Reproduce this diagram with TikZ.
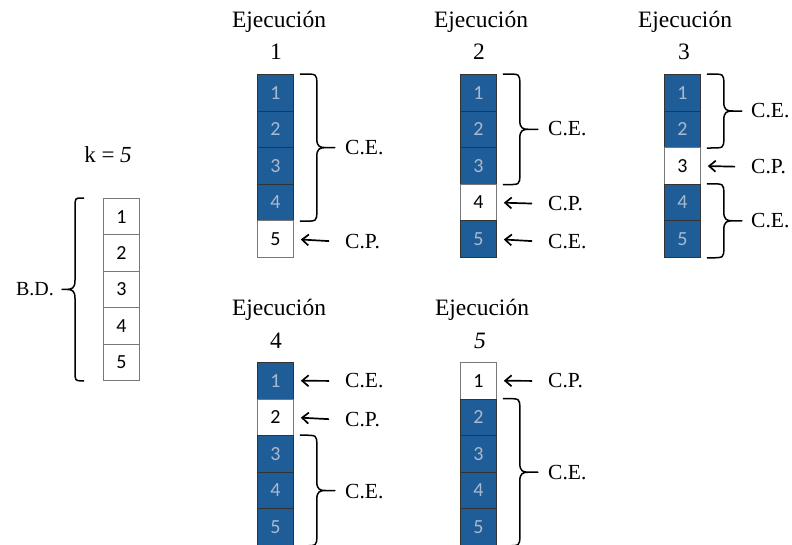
\documentclass[tikz,border=0pt]{standalone}
\usepackage{fontspec}
\setmainfont{Liberation Serif}
\newfontfamily\cellfont{Carlito}
\usetikzlibrary{arrows.meta,calc}

\definecolor{cellblue}{RGB}{31,93,153}
\definecolor{celltext}{RGB}{170,186,206}
\definecolor{cellgray}{RGB}{120,120,120}

\tikzset{
  cellbox/.style={draw=cellgray, line width=0.8pt, minimum width=36pt, minimum height=36.6pt,
    inner sep=0pt, anchor=north west, font=\cellfont\fontsize{20}{20}\selectfont},
  usedcell/.style={cellbox, fill=cellblue, text=celltext, draw=black!80},
  freecell/.style={cellbox, fill=white, text=black},
  title/.style={font=\fontsize{23.5}{23.5}\selectfont, inner sep=0pt},
  tag/.style={font=\fontsize{21.5}{21.5}\selectfont, inner sep=0pt, anchor=west},
  pointer/.style={line width=1.7pt, -{Straight Barb[length=6.5pt,width=11pt,line width=1.7pt]},
    shorten <=16pt, shorten >=7pt},
  % curly brace drawn from a top point to a bottom point:
  % #1 = side (1 right, -1 left), #2 = shaft offset, #3 = tip offset
  curly/.style n args={3}{line width=1.5pt, line join=round, to path={
    let \p1=(\tikztostart), \p2=(\tikztotarget), \n1={(\y1+\y2)/2} in
    (\p1) -- ($(\p1)+(#1*#2*0.2pt,0)$)
      .. controls ($(\p1)+(#1*#2*1pt,0)$) .. ($(\p1)+(#1*#2*1pt,-10pt)$)
      -- (\x1+#1*#2*1pt,\n1+9pt)
      .. controls (\x1+#1*#2*1pt,\n1+1pt) and (\x1+#1*#2*1pt+#1*3pt,\n1) .. (\x1+#1*#2*1pt+#1*9pt,\n1)
      -- (\x1+#1*#3*1pt,\n1)
      -- (\x1+#1*#2*1pt+#1*9pt,\n1)
      .. controls (\x1+#1*#2*1pt+#1*3pt,\n1) and (\x1+#1*#2*1pt,\n1-1pt) .. (\x1+#1*#2*1pt,\n1-9pt)
      -- ($(\p2)+(#1*#2*1pt,10pt)$)
      .. controls ($(\p2)+(#1*#2*1pt,0)$) .. ($(\p2)+(#1*#2*0.2pt,0)$)
      -- (\p2)
  }},
  curlyR/.style={curly={1}{17}{35}},
  curlyL/.style={curly={-1}{9}{22}}
}

\begin{document}
\begin{tikzpicture}[x=1pt,y=-1pt]
\useasboundingbox (0,0) rectangle (792,544);

% ---- database column ----
\foreach \i in {1,...,5}
  \node[freecell, minimum height=36.4pt] (bd\i) at (103,{198+(\i-1)*36.4}) {\i};
\node[title, font=\fontsize{23}{23}\selectfont] (kval) at (108,155) {k = \textit{5}};
\draw[curlyL] ([xshift=-19pt]bd1.north west) to ([xshift=-19pt]bd5.south west);
\node[tag, anchor=east, font=\fontsize{20}{20}\selectfont] (bdlbl) at (54,289) {B.D.};

% ---- run 1 ----
\node[title] (t1) at (279,22) {Ejecución};
\node[title] (n1) at (276,52) {1};
\foreach \i in {1,...,4}
  \node[usedcell] (ea\i) at (257,{74+(\i-1)*36.6}) {\i};
\node[freecell] (ea5) at (257,{74+4*36.6}) {5};
\draw[curlyR] ([xshift=6pt]ea1.north east) to ([xshift=6pt]ea4.south east);
\node[tag] (ea-ce) at (345,148) {C.E.};
\node[tag] (ea-cp) at (345,242) {C.P.};
\draw[pointer] (ea-cp.west) -- (ea5.east);

% ---- run 2 ----
\node[title] (t2) at (481,22) {Ejecución};
\node[title] (n2) at (479,52) {2};
\foreach \i in {1,2,3}
  \node[usedcell] (eb\i) at (460,{74+(\i-1)*36.6}) {\i};
\node[freecell] (eb4) at (460,{74+3*36.6}) {4};
\node[usedcell] (eb5) at (460,{74+4*36.6}) {5};
\draw[curlyR] ([xshift=6pt]eb1.north east) to ([xshift=6pt]eb3.south east);
\node[tag] (eb-ce) at (548,129) {C.E.};
\node[tag] (eb-cp) at (548,204) {C.P.};
\node[tag] (eb-ce2) at (548,242) {C.E.};
\draw[pointer] (eb-cp.west) -- (eb4.east);
\draw[pointer] (eb-ce2.west) -- (eb5.east);

% ---- run 3 ----
\node[title] (t3) at (685,22) {Ejecución};
\node[title] (n3) at (684,52) {3};
\foreach \i in {1,2}
  \node[usedcell] (ec\i) at (664,{74+(\i-1)*36.6}) {\i};
\node[freecell] (ec3) at (664,{74+2*36.6}) {3};
\foreach \i in {4,5}
  \node[usedcell] (ec\i) at (664,{74+(\i-1)*36.6}) {\i};
\draw[curlyR] ([xshift=6pt]ec1.north east) to ([xshift=6pt]ec2.south east);
\draw[curlyR] ([xshift=6pt]ec4.north east) to ([xshift=6pt]ec5.south east);
\node[tag] (ec-ce) at (751,111) {C.E.};
\node[tag] (ec-cp) at (751,167) {C.P.};
\node[tag] (ec-ce2) at (751,221) {C.E.};
\draw[pointer] (ec-cp.west) -- (ec3.east);

% ---- run 4 ----
\node[title] (t4) at (279,310) {Ejecución};
\node[title] (n4) at (276,341) {4};
\node[usedcell] (ed1) at (257,362) {1};
\node[freecell] (ed2) at (257,{362+36.6}) {2};
\foreach \i in {3,4,5}
  \node[usedcell] (ed\i) at (257,{362+(\i-1)*36.6}) {\i};
\draw[curlyR] ([xshift=6pt]ed3.north east) to ([xshift=6pt]ed5.south east);
\node[tag] (ed-ce) at (345,381) {C.E.};
\node[tag] (ed-cp) at (345,420) {C.P.};
\node[tag] (ed-ce2) at (345,492) {C.E.};
\draw[pointer] (ed-ce.west) -- (ed1.east);
\draw[pointer] (ed-cp.west) -- (ed2.east);

% ---- run 5 ----
\node[title] (t5) at (482,310) {Ejecución};
\node[title] (n5) at (480,341) {\textit{5}};
\node[freecell] (ee1) at (460,362) {1};
\foreach \i in {2,...,5}
  \node[usedcell] (ee\i) at (460,{362+(\i-1)*36.6}) {\i};
\draw[curlyR] ([xshift=6pt]ee2.north east) to ([xshift=6pt]ee5.south east);
\node[tag] (ee-cp) at (548,381) {C.P.};
\node[tag] (ee-ce) at (548,473) {C.E.};
\draw[pointer] (ee-cp.west) -- (ee1.east);
\end{tikzpicture}
\end{document}
